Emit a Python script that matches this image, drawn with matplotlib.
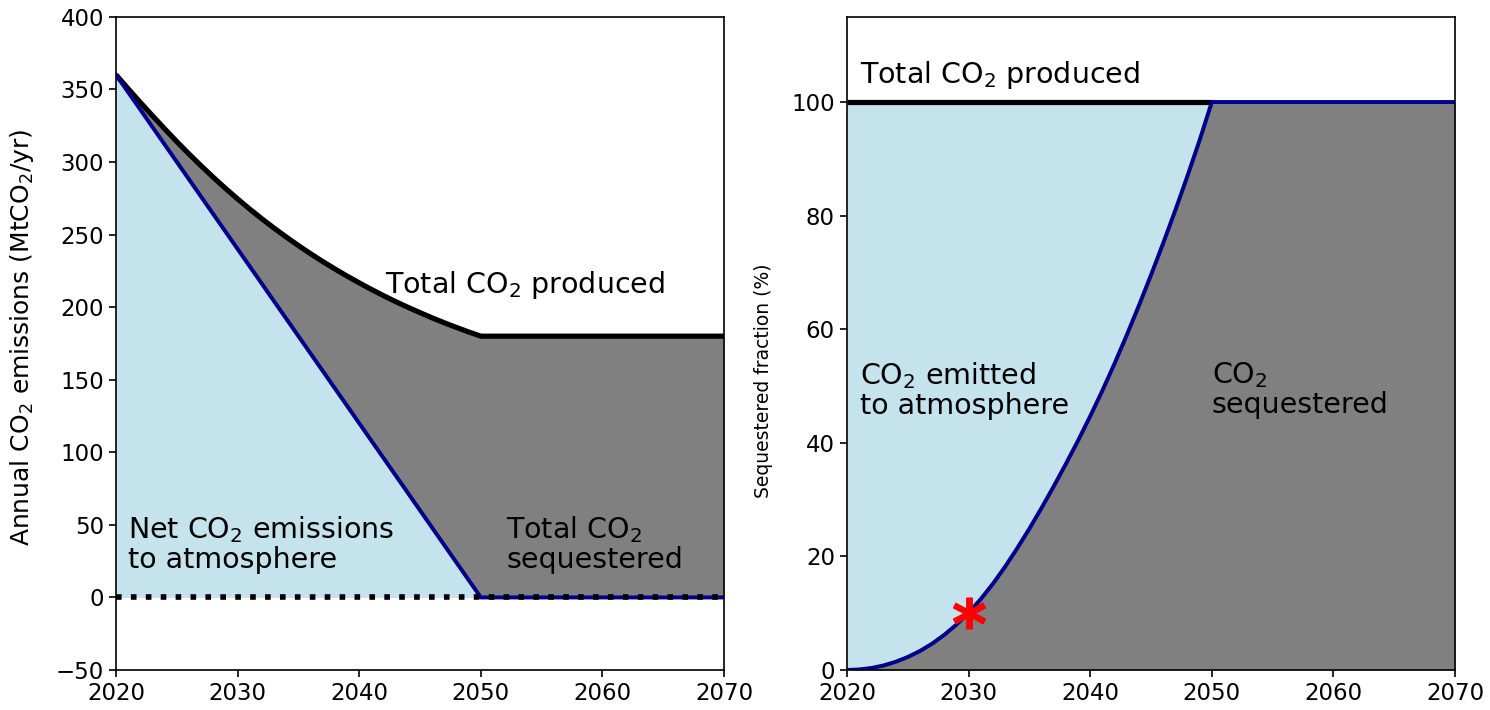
import matplotlib
matplotlib.use("Agg")
import matplotlib.pyplot as plt
import numpy as np

# scale of the base style (figure was laid out at 1.5x the default size)
S = 1.5
plt.rcParams.update({
    "font.family": ["DejaVu Sans"],
    "font.size": 11 * S,
    "axes.linewidth": 0.8 * S,
    "xtick.major.width": 0.8 * S,
    "ytick.major.width": 0.8 * S,
    "xtick.major.size": 3.5 * S,
    "ytick.major.size": 3.5 * S,
    "xtick.labelsize": 11 * S,
    "ytick.labelsize": 11 * S,
})

# annual emissions (MtCO2/yr)
years = [2020, 2021, 2022, 2023, 2024, 2025, 2026, 2027, 2028, 2029,
         2030, 2031, 2032, 2033, 2034, 2035, 2036, 2037, 2038, 2039,
         2040, 2041, 2042, 2043, 2044, 2045, 2046, 2047, 2048, 2049,
         2050, 2070]
total_produced = [360, 350.4, 341.0, 331.8, 322.8, 314.0, 305.5, 297.3, 289.4, 281.8,
                  274.5, 267.5, 260.8, 254.4, 248.3, 242.4, 236.8, 231.4, 226.3, 221.4,
                  216.7, 212.2, 207.9, 203.8, 199.9, 196.2, 192.6, 189.2, 186.0, 182.9,
                  180, 180]
net_years = [2020, 2050, 2070]
net_emissions = [360, 0, 0]

# share of produced CO2 that is sequestered (%)
sequestered_pct = [0, 0.1, 0.35, 0.8, 1.45, 2.3, 3.35, 4.65, 6.2, 8.0,
                   10.1, 12.5, 15.2, 18.2, 21.45, 24.9, 28.55, 32.35, 36.3, 40.4,
                   44.7, 49.2, 53.95, 58.95, 64.15, 69.55, 75.15, 80.95, 87.0, 93.3,
                   100, 100]
marker_year = 2030

fill_blue = "lightblue"
fill_grey = "grey"
line_blue = "darkblue"
label_size = 13.7 * S

years = np.array(years, dtype=float)
total_produced = np.array(total_produced, dtype=float)
net_on_grid = np.interp(years, net_years, net_emissions)
sequestered_pct = np.array(sequestered_pct, dtype=float)

fig = plt.figure(figsize=(14.9, 7.1), dpi=100)
ax1 = fig.add_axes([0.0779, 0.0563, 0.408, 0.920])
ax2 = fig.add_axes([0.5685, 0.0563, 0.408, 0.920])

# --- left: emissions ---
pre = years <= 2050
ax1.fill_between(years[pre], 0, net_on_grid[pre], color=fill_blue, alpha=0.7, lw=0)
ax1.fill_between(years, net_on_grid, total_produced, color=fill_grey, lw=0)
ax1.plot(years, total_produced, color="black", lw=2.5 * S, solid_capstyle="butt")
ax1.plot(net_years, net_emissions, color=line_blue, lw=1.9 * S)
ax1.plot([years[0], years[-1]], [0, 0], color="black", ls=":", lw=2.7 * S)

ax1.set_xlim(2020, 2070)
ax1.set_ylim(-50, 400)
ax1.set_xticks(np.arange(2020, 2071, 10))
ax1.set_yticks(np.arange(-50, 401, 50))
ax1.set_ylabel("Annual CO$_2$ emissions (MtCO$_2$/yr)", fontsize=12 * S)
ax1.yaxis.set_label_coords(-0.131, 0.51)

ax1.text(2042.1, 215, "Total CO$_2$ produced", fontsize=label_size, va="center", ha="left")
ax1.text(2021.0, 37, "Net CO$_2$ emissions\nto atmosphere", fontsize=label_size,
         va="center", ha="left", linespacing=1.05)
ax1.text(2052.1, 37, "Total CO$_2$\nsequestered", fontsize=label_size,
         va="center", ha="left", linespacing=1.05)

# --- right: sequestered fraction ---
ax2.fill_between(years[pre], sequestered_pct[pre], 100, color=fill_blue, alpha=0.7, lw=0)
ax2.fill_between(years, 0, sequestered_pct, color=fill_grey, lw=0)
ax2.plot([2020, 2050], [100, 100], color="black", lw=2.5 * S, solid_capstyle="butt")
ax2.plot(years, sequestered_pct, color=line_blue, lw=1.9 * S)
star_val = sequestered_pct[list(years).index(marker_year)]
ax2.plot(marker_year, star_val, marker=r"$\mathbf{*}$", color="red", ms=23, zorder=5)

ax2.set_xlim(2020, 2070)
ax2.set_ylim(0, 115)
ax2.set_xticks(np.arange(2020, 2071, 10))
ax2.set_yticks(np.arange(0, 101, 20))
ax2.set_ylabel("Sequestered fraction (%)", fontsize=9 * S)
ax2.yaxis.set_label_coords(-0.122, 0.443)

ax2.text(2021.1, 104.7, "Total CO$_2$ produced", fontsize=label_size, va="center", ha="left")
ax2.text(2021.1, 49.3, "CO$_2$ emitted\nto atmosphere", fontsize=label_size,
         va="center", ha="left", linespacing=1.05)
ax2.text(2050.0, 49.3, "CO$_2$\nsequestered", fontsize=label_size,
         va="center", ha="left", linespacing=1.05)

fig.savefig("out.png", dpi=100)
